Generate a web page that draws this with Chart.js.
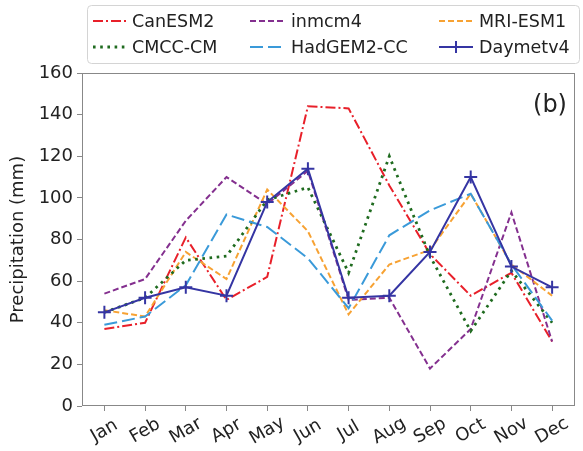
<!DOCTYPE html>
<html><head><meta charset="utf-8">
<script src="https://cdn.jsdelivr.net/npm/chart.js@4.4.0/dist/chart.umd.min.js"></script>
<style>html,body{margin:0;padding:0;background:#fff;overflow:hidden}canvas{display:block}</style>
</head><body>
<canvas id="c" width="583" height="451"></canvas>
<script>
// ---- data ----
const months = ['Jan','Feb','Mar','Apr','May','Jun','Jul','Aug','Sep','Oct','Nov','Dec'];
const canESM2   = [37, 40, 81, 51, 62, 144, 143, 106, 73, 53, 64, 31];
const inmcm4    = [54, 61, 89, 110, 97, 113, 51, 52, 18, 37, 93, 31];
const mriESM1   = [46, 43, 74, 61, 104, 84, 44, 68, 75, 102, 68, 53];
const cmccCM    = [45, 52, 70, 72, 99, 105, 64, 120, 72, 36, 65, 40];
const hadGEM2CC = [39, 43, 58, 92, 86, 71, 47, 82, 94, 102, 68, 41];
const daymetv4  = [45, 52, 57, 53, 98, 114, 52, 53, 74, 110, 67, 57];
const yTicks    = [0, 20, 40, 60, 80, 100, 120, 140, 160];
const yTitle = 'Precipitation (mm)';
const panelLabel = '(b)';

// ---- styles ----
const FONT = '"DejaVu Sans", sans-serif';
const series = [
  {label:'CanESM2',    data:canESM2,   color:'#e8202a', dash:[10,3,2,3], width:2},
  {label:'inmcm4',     data:inmcm4,    color:'#84308f', dash:[6,3],      width:2},
  {label:'MRI-ESM1',   data:mriESM1,   color:'#f7a233', dash:[6,3],      width:2},
  {label:'CMCC-CM',    data:cmccCM,    color:'#1f6b1f', dash:[2.6,4.6],  width:2.8},
  {label:'HadGEM2-CC', data:hadGEM2CC, color:'#3a9ad9', dash:[13,5],     width:2},
  {label:'Daymetv4',   data:daymetv4,  color:'#3535a3', dash:[],         width:2, marker:true}
];

const legendLayout = {
  box:{x:87, y:5, w:492, h:58},
  rows:[21, 47],
  lineX:[93, 250, 439],
  textX:[132, 291, 479],
  lineLen:34
};

const deco = {
  id:'deco',
  afterDraw(chart){
    const ctx = chart.ctx, a = chart.chartArea, xs = chart.scales.x;
    ctx.save();
    // frame
    ctx.strokeStyle = '#888'; ctx.lineWidth = 1; ctx.setLineDash([]);
    ctx.strokeRect(Math.round(a.left)+0.5, Math.round(a.top)+0.5,
                   Math.round(a.right-a.left)-1, Math.round(a.bottom-a.top)-1);
    // x tick labels (rotated, centred)
    ctx.fillStyle = '#222'; ctx.font = '18px ' + FONT;
    ctx.textAlign = 'center'; ctx.textBaseline = 'middle';
    months.forEach((m,i)=>{
      const x = xs.getPixelForValue(i);
      ctx.save(); ctx.translate(x, a.bottom + 25); ctx.rotate(-Math.PI/6);
      ctx.fillText(m, 0, 0); ctx.restore();
    });
    // y title
    ctx.save(); ctx.translate(18, (a.top + a.bottom)/2); ctx.rotate(-Math.PI/2);
    ctx.fillText(yTitle, 0, 0); ctx.restore();
    // panel label
    ctx.font = '24px ' + FONT;
    ctx.fillText(panelLabel, 550, 106);
    // legend
    const L = legendLayout;
    ctx.fillStyle = 'rgba(255,255,255,0.8)';
    ctx.strokeStyle = '#d4d4d4'; ctx.lineWidth = 1;
    ctx.beginPath();
    ctx.roundRect(L.box.x+0.5, L.box.y+0.5, L.box.w, L.box.h, 4);
    ctx.fill(); ctx.stroke();
    ctx.font = '17.5px ' + FONT; ctx.textAlign = 'left'; ctx.textBaseline = 'middle';
    series.forEach((s, i)=>{
      const row = Math.floor(i/3), col = i % 3;
      const y = L.rows[row], x0 = L.lineX[col];
      ctx.strokeStyle = s.color; ctx.lineWidth = s.width; ctx.setLineDash(s.dash);
      ctx.beginPath(); ctx.moveTo(x0, y); ctx.lineTo(x0 + L.lineLen, y); ctx.stroke();
      ctx.setLineDash([]);
      if (s.marker){
        const cx = x0 + L.lineLen/2;
        ctx.beginPath(); ctx.moveTo(cx, y-6); ctx.lineTo(cx, y+6); ctx.stroke();
      }
      ctx.fillStyle = '#222';
      ctx.fillText(s.label, L.textX[col], y + 1);
    });
    ctx.restore();
  }
};

new Chart(document.getElementById('c').getContext('2d'), {
  type:'line',
  data:{
    datasets: series.map((s, i)=>({
      label:s.label,
      data: months.map((m, k)=>({x:k, y:s.data[k]})),
      borderColor:s.color,
      backgroundColor:s.color,
      borderWidth:s.width,
      borderDash:s.dash,
      tension:0,
      fill:false,
      pointRadius: s.marker ? 6.5 : 0,
      pointStyle:'cross',
      pointBorderWidth:2,
      pointBorderColor:s.color,
      order: s.marker ? 0 : (6 - i)
    }))
  },
  options:{
    responsive:false, animation:false, devicePixelRatio:1,
    layout:{padding:{top:73, right:2, left:0, bottom:0}},
    plugins:{legend:{display:false}, tooltip:{enabled:false}},
    scales:{
      x:{
        type:'linear', min:-0.55, max:11.55,
        afterFit(s){ s.height = 45; },
        ticks:{stepSize:1, includeBounds:false, display:false},
        grid:{drawOnChartArea:false, drawTicks:true, tickLength:5, color:'#888'},
        border:{display:false}
      },
      y:{
        min:0, max:160,
        afterFit(s){ s.width = 82; },
        afterBuildTicks(s){ s.ticks = yTicks.map(v=>({value:v})); },
        ticks:{padding:4, color:'#222', font:{family:FONT, size:18}},
        grid:{drawOnChartArea:false, drawTicks:true, tickLength:5, color:'#888'},
        border:{display:false}
      }
    }
  },
  plugins:[deco]
});
</script>
</body></html>
